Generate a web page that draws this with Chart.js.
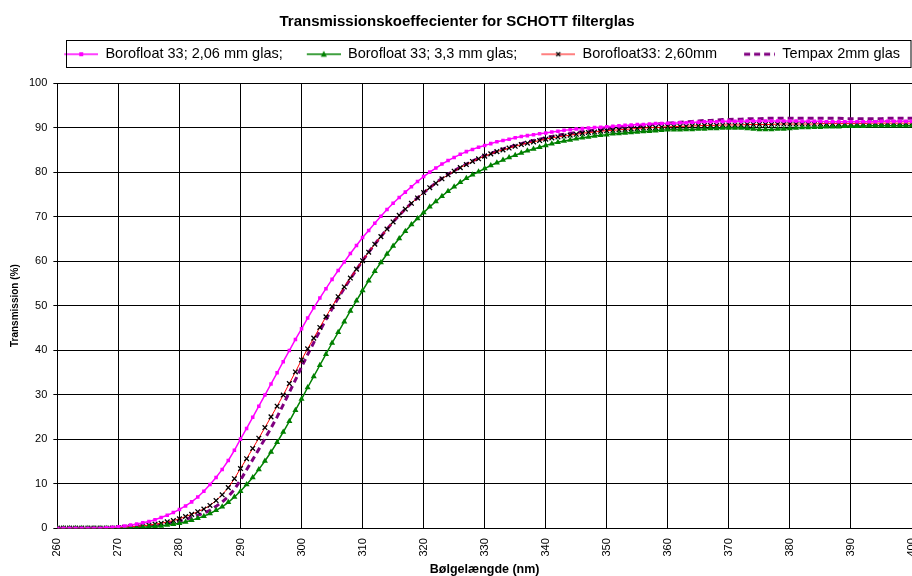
<!DOCTYPE html>
<html>
<head>
<meta charset="utf-8">
<script src="https://cdn.jsdelivr.net/npm/chart.js@4"></script>
<style>
body{margin:0;background:#fff;overflow:hidden;}
#wrap{width:912px;height:576px;}
</style>
</head>
<body>
<div id="wrap"><canvas id="chart"></canvas></div>
<script>

// Data

const wavelengths = [
260,261,262,263,264,265,266,267,268,269,
270,271,272,273,274,275,276,277,278,279,
280,281,282,283,284,285,286,287,288,289,
290,291,292,293,294,295,296,297,298,299,
300,301,302,303,304,305,306,307,308,309,
310,311,312,313,314,315,316,317,318,319,
320,321,322,323,324,325,326,327,328,329,
330,331,332,333,334,335,336,337,338,339,
340,341,342,343,344,345,346,347,348,349,
350,351,352,353,354,355,356,357,358,359,
360,361,362,363,364,365,366,367,368,369,
370,371,372,373,374,375,376,377,378,379,
380,381,382,383,384,385,386,387,388,389,
390,391,392,393,394,395,396,397,398,399,400
];

const boro206 = [
0,0,0,0,0,0,0,0,0.1,0.2,
0.3,0.5,0.7,0.9,1.2,1.5,1.9,2.4,2.9,3.5,
4.2,5.0,5.9,7.0,8.3,9.8,11.4,13.2,15.2,17.5,
20.0,22.4,24.9,27.4,29.9,32.4,34.9,37.4,39.9,42.4,
44.8,47.2,49.5,51.7,53.8,55.9,57.9,59.8,61.7,63.5,
65.3,66.9,68.5,70.1,71.6,73.0,74.3,75.5,76.7,77.9,
79.0,80.0,80.9,81.8,82.6,83.3,84.0,84.6,85.1,85.6,
86.0,86.4,86.8,87.1,87.4,87.7,88.0,88.2,88.4,88.6,
88.8,89.0,89.2,89.4,89.5,89.7,89.8,89.9,90.0,90.1,
90.2,90.3,90.4,90.5,90.6,90.7,90.7,90.8,90.9,90.9,
91.0,91.0,91.1,91.1,91.2,91.2,91.3,91.3,91.3,91.4,
91.4,91.4,91.4,91.5,91.5,91.5,91.5,91.5,91.5,91.5,
91.5,91.5,91.4,91.4,91.4,91.4,91.3,91.3,91.3,91.3,
91.3,91.3,91.3,91.3,91.3,91.4,91.4,91.4,91.4,91.4,91.4
];

const boro33 = [
0,0,0,0,0,0,0,0,0,0,
0,0,0,0.1,0.2,0.3,0.4,0.5,0.7,0.9,
1.1,1.4,1.8,2.2,2.7,3.3,4.0,4.8,5.8,7.0,
8.3,9.8,11.4,13.2,15.1,17.1,19.3,21.6,24.0,26.5,
29.0,31.6,34.1,36.6,39.1,41.6,44.0,46.4,48.8,51.1,
53.4,55.6,57.7,59.7,61.6,63.4,65.1,66.7,68.2,69.6,
70.9,72.2,73.4,74.6,75.7,76.7,77.7,78.6,79.4,80.1,
80.8,81.5,82.1,82.7,83.3,83.8,84.3,84.8,85.2,85.6,
86.0,86.4,86.7,87.0,87.2,87.5,87.7,87.9,88.1,88.3,
88.4,88.6,88.7,88.8,88.9,89.0,89.1,89.2,89.3,89.4,
89.5,89.5,89.5,89.6,89.6,89.7,89.7,89.8,89.8,89.9,
89.9,89.9,89.9,89.8,89.7,89.6,89.6,89.6,89.7,89.7,
89.8,89.9,90.0,90.0,90.1,90.1,90.2,90.2,90.2,90.3,
90.3,90.3,90.3,90.4,90.4,90.4,90.4,90.4,90.4,90.4,90.4
];

const boro260 = [
0,0,0,0,0,0,0,0,0,0,
0.1,0.2,0.3,0.4,0.5,0.7,0.9,1.1,1.4,1.7,
2.1,2.6,3.1,3.7,4.3,5.1,6.2,7.5,9.1,11.1,
13.4,15.6,17.9,20.2,22.6,25.0,27.4,29.9,32.5,35.1,
37.8,40.3,42.7,45.1,47.5,49.8,52.0,54.2,56.2,58.2,
60.1,62.0,63.8,65.5,67.2,68.8,70.3,71.7,73.0,74.2,
75.4,76.5,77.5,78.5,79.4,80.2,81.0,81.7,82.4,83.0,
83.6,84.1,84.6,85.0,85.4,85.8,86.2,86.5,86.8,87.1,
87.4,87.7,87.9,88.1,88.3,88.5,88.7,88.9,89.0,89.2,
89.3,89.4,89.5,89.6,89.7,89.8,89.9,90.0,90.0,90.1,
90.2,90.2,90.3,90.3,90.4,90.4,90.5,90.5,90.5,90.6,
90.6,90.6,90.6,90.7,90.7,90.7,90.7,90.7,90.8,90.8,
90.8,90.8,90.8,90.8,90.8,90.9,90.9,90.9,90.9,90.9,
90.9,90.9,90.9,91.0,91.0,91.0,91.0,91.0,91.0,91.0,91.0
];

const tempax2 = [
0,0,0,0,0,0,0,0,0,0,
0.0,0.1,0.2,0.3,0.4,0.5,0.6,0.8,1.0,1.3,
1.6,2.0,2.4,2.9,3.4,4.0,4.9,5.9,7.1,8.7,
10.8,13.1,15.4,17.7,20.1,22.5,25.0,27.7,30.5,33.3,
36.2,39.0,41.7,44.3,46.9,49.3,51.7,53.9,56.0,58.1,
60.1,62.0,63.8,65.5,67.2,68.8,70.3,71.7,73.0,74.2,
75.4,76.5,77.6,78.6,79.5,80.3,81.1,81.8,82.5,83.1,
83.7,84.2,84.7,85.2,85.6,86.0,86.4,86.8,87.1,87.4,
87.7,88.0,88.3,88.5,88.7,88.9,89.1,89.3,89.4,89.6,
89.7,89.9,90.0,90.2,90.3,90.4,90.6,90.7,90.8,90.9,
91.0,91.1,91.2,91.3,91.4,91.5,91.6,91.6,91.7,91.8,
91.8,91.9,91.9,92.0,92.0,92.0,92.1,92.1,92.1,92.1,
92.1,92.1,92.1,92.1,92.1,92.1,92.1,92.1,92.1,92.0,
92.0,92.0,92.0,92.0,92.0,92.0,92.1,92.1,92.1,92.1,92.1
];

const seriesNames = [
"Borofloat 33; 2,06 mm glas;",
"Borofloat 33; 3,3 mm glas;",
"Borofloat33: 2,60mm",
"Tempax 2mm glas"
];

const FONT = "Arial, 'Liberation Sans', sans-serif";

function points(values){
return wavelengths.map(function(w,i){ return {x:w, y:values[i]}; });
}

// small legend pictures: line + marker (first 12px left empty as a gap)

function legendIcon(color, marker, markerColor, dash, lineWidth){
const c = document.createElement("canvas");
c.width = 46;
c.height = 12;
const g = c.getContext("2d");
g.strokeStyle = color;
g.lineWidth = lineWidth;
if(dash){ g.setLineDash(dash); }
g.beginPath();
g.moveTo(dash ? 15 : 12, 6);
g.lineTo(46, 6);
g.stroke();
g.setLineDash([]);
g.fillStyle = markerColor;
g.strokeStyle = markerColor;
g.lineWidth = 1.2;
if(marker==="rect"){
g.fillRect(27, 4, 4, 4);
}
else if(marker==="triangle"){
g.beginPath();
g.moveTo(29, 2.5);
g.lineTo(32, 8.5);
g.lineTo(26, 8.5);
g.closePath();
g.fill();
}
else if(marker==="cross"){
g.beginPath();
g.moveTo(27, 4); g.lineTo(31, 8);
g.moveTo(31, 4); g.lineTo(27, 8);
g.stroke();
}
return c;
}

const icons = [
legendIcon("#ff00ff","rect","#ff00ff",null,1.5),
legendIcon("#008000","triangle","#008000",null,1.5),
legendIcon("#ff0000","cross","#000000",null,1),
legendIcon("#800080",null,"#800080",[6,4],3)
];

// box around legend

const legendBox = {
id:"legendBox",
afterDraw(chart){
const lg = chart.legend;
if(!lg || !lg.legendHitBoxes.length){ return; }
const first = lg.legendHitBoxes[0];
const ctx = chart.ctx;
const x0 = Math.round(first.left) + 14.5;
const y0 = Math.round(first.top + first.height/2) - 13.5;
ctx.save();
ctx.strokeStyle = "#000";
ctx.lineWidth = 1;
ctx.strokeRect(x0, y0, 911 - x0, 27);
ctx.restore();
}
};

// plot runs to the right edge, the 400 label is cut like in the original

const plotToEdge = {
id:"plotToEdge",
afterLayout(chart){
const ca = chart.chartArea;
const xs = chart.scales.x;
ca.right = chart.width;
ca.width = ca.right - ca.left;
xs.right = chart.width;
xs.width = xs.right - xs.left;
xs.configure();
}
};

new Chart(
document.getElementById("chart"),
{
type:"line",
data:{
datasets:[
{
label:seriesNames[0],
data:points(boro206),
borderColor:"#ff00ff",
backgroundColor:"#ff00ff",
borderWidth:1.5,
pointStyle:"rect",
pointRadius:2.5,
pointBorderWidth:0,
tension:0
},
{
label:seriesNames[1],
data:points(boro33),
borderColor:"#008000",
backgroundColor:"#008000",
borderWidth:1.5,
pointStyle:"triangle",
pointRadius:3.5,
pointBorderWidth:0,
tension:0
},
{
label:seriesNames[2],
data:points(boro260),
borderColor:"#ff0000",
backgroundColor:"#000000",
pointBorderColor:"#000000",
borderWidth:1,
pointStyle:"crossRot",
pointRadius:3.3,
pointBorderWidth:1.3,
tension:0
},
{
label:seriesNames[3],
data:points(tempax2),
borderColor:"#800080",
backgroundColor:"#800080",
borderWidth:3,
borderDash:[6,4],
pointRadius:0,
tension:0
}
]
},
options:{
responsive:true,
maintainAspectRatio:false,
animation:false,
layout:{padding:{left:2,right:0,top:0,bottom:0}},
plugins:{
title:{
display:true,
text:"Transmissionskoeffecienter for SCHOTT filterglas",
color:"#000",
font:{family:FONT,size:15,weight:"bold"},
padding:{top:13,bottom:4}
},
// empty spacer between legend and plot
subtitle:{
display:true,
text:"",
weight:500,
font:{size:2},
padding:{top:0,bottom:9.2}
},
legend:{
display:true,
position:"top",
align:"end",
labels:{
color:"#000",
font:{family:FONT,size:14.5},
usePointStyle:true,
pointStyleWidth:46,
padding:12,
generateLabels(chart){
const items = Chart.defaults.plugins.legend.labels.generateLabels(chart);
items.forEach(function(it,i){
it.pointStyle = icons[i];
it.rotation = 0;
});
return items;
}
}
},
tooltip:{enabled:false}
},
scales:{
x:{
type:"linear",
min:260,
max:400,
ticks:{
stepSize:10,
minRotation:90,
maxRotation:90,
color:"#000",
font:{family:FONT,size:11},
padding:0
},
grid:{color:"#000",lineWidth:1,tickLength:10,tickColor:"rgba(0,0,0,0)"},
border:{color:"#000",width:1},
title:{
display:true,
text:"Bølgelængde (nm)",
color:"#000",
font:{family:FONT,size:12.5,weight:"bold"},
padding:{top:6,bottom:-1.5}
}
},
y:{
min:0,
max:100,
ticks:{
stepSize:10,
color:"#000",
font:{family:FONT,size:11},
padding:6
},
grid:{color:"#000",lineWidth:1,tickLength:4},
border:{color:"#000",width:1},
title:{
display:true,
text:"Transmission (%)",
color:"#000",
font:{family:FONT,size:10,weight:"bold"},
padding:{top:7,bottom:2}
}
}
}
},
plugins:[legendBox, plotToEdge]
}
);

</script>
</body>
</html>
